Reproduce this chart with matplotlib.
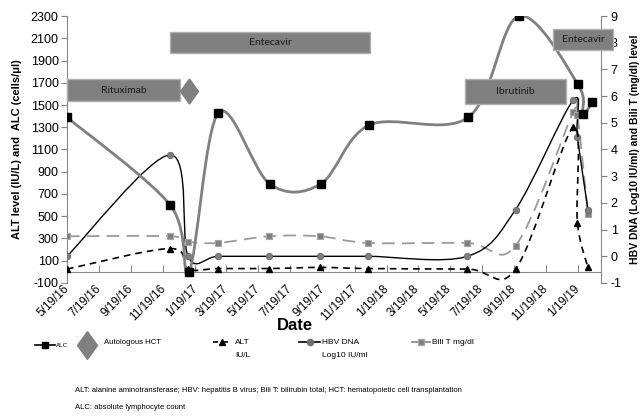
import datetime as dt
import numpy as np
import matplotlib
matplotlib.use("Agg")
import matplotlib.pyplot as plt
import matplotlib.dates as mdates
from matplotlib.path import Path
from matplotlib.patches import PathPatch, Rectangle
from matplotlib.lines import Line2D

plt.rcParams['font.family'] = ['Liberation Sans', 'DejaVu Sans']
plt.rcParams['axes.unicode_minus'] = False

# ---- data ----
alc_dates = ["2016-05-19", "2016-12-02", "2017-01-07", "2017-03-04", "2017-06-10", "2017-09-15",
             "2017-12-17", "2018-06-24", "2018-09-28", "2019-01-19", "2019-01-28", "2019-02-15"]
alc_vals = [1390, 600, 0, 1430, 790, 790, 1320, 1390, 2300, 1685, 1420, 1525]

alt_dates = ["2016-05-19", "2016-12-02", "2017-01-05", "2017-03-03", "2017-06-09", "2017-09-13",
             "2017-12-15", "2018-06-22", "2018-09-22", "2019-01-10", "2019-01-18", "2019-02-07"]
alt_vals = [25, 210, 25, 30, 30, 40, 30, 25, 25, 1300, 440, 40]

hbv_dates = alt_dates
hbv_vals = [0, 3.8, 0, 0, 0, 0, 0, 0, 1.75, 5.85, 4.45, 1.75]

bili_dates = alt_dates
bili_vals = [0.75, 0.75, 0.55, 0.5, 0.75, 0.75, 0.5, 0.5, 0.4, 5.4, 5.3, 1.6]

tick_months = [1, 3, 5, 7, 9, 11]

# treatment bars: (label, start, end, low, high) on the left axis scale
bars = [("Rituximab", "2016-05-19", "2016-12-21", 1535, 1730),
        ("Entecavir", "2016-12-02", "2017-12-18", 1965, 2155),
        ("Ibrutinib", "2018-06-18", "2018-12-27", 1505, 1730),
        ("Entecavir", "2018-12-02", "2019-03-27", 1995, 2185)]
hct_date = "2017-01-07"
hct_level = 1625


def d(s):
    return mdates.date2num(dt.datetime.strptime(s, "%Y-%m-%d"))


def smooth(xs, ys):
    # Bezier smoothing like the spreadsheet's "smoothed line"
    p = np.column_stack([xs, ys]).astype(float)
    n = len(p)
    verts = [p[0]]
    codes = [Path.MOVETO]
    for i in range(n - 1):
        p0 = p[max(i - 1, 0)]
        p1 = p[i]
        p2 = p[i + 1]
        p3 = p[min(i + 2, n - 1)]
        verts += [p1 + (p2 - p0) / 6, p2 - (p3 - p1) / 6, p2]
        codes += [Path.CURVE4] * 3
    return Path(verts, codes)


axcol = "#868686"

fig = plt.figure(figsize=(6.43, 4.19), dpi=100)
ax = fig.add_axes([0.1042, 0.3246, 0.8305, 0.6372])
ax2 = ax.twinx()

ax.set_xlim(d("2016-05-19"), d("2019-03-04"))
ax.set_ylim(-100, 2300)
ax2.set_ylim(-1, 9)

xa = [d(s) for s in alc_dates]
xt = [d(s) for s in alt_dates]
xh = [d(s) for s in hbv_dates]
xb = [d(s) for s in bili_dates]

# right-axis series
ax2.add_patch(PathPatch(smooth(xb, bili_vals), fill=False, ec="#9a9a9a", lw=1.3,
                        linestyle=(0, (7, 4))))
ax2.plot(xb, bili_vals, ls="none", marker="s", ms=5, mfc="#7f7f7f", mec="#a6a6a6", mew=0.8)
ax2.add_patch(PathPatch(smooth(xh, hbv_vals), fill=False, ec="black", lw=1.0))
ax2.plot(xh, hbv_vals, ls="none", marker="o", ms=4.5, mfc="#7f7f7f", mec="#6a6a6a", mew=0.7)

# left-axis series, drawn on top
ax3 = ax.twinx()
ax3.set_ylim(ax.get_ylim())
ax3.axis("off")
ax3.add_patch(PathPatch(smooth(xt, alt_vals), fill=False, ec="black", lw=1.2,
                        linestyle=(0, (4, 3))))
ax3.plot(xt, alt_vals, ls="none", marker="^", ms=4.5, color="black")
ax3.add_patch(PathPatch(smooth(xa, alc_vals), fill=False, ec="#808080", lw=2.0))
ax3.plot(xa, alc_vals, ls="none", marker="s", ms=5.5, color="black")

for label, s, e, lo, hi in bars:
    ax3.add_patch(Rectangle((d(s), lo), d(e) - d(s), hi - lo, fc="#808080", ec="#b0b0b0",
                            lw=1, clip_on=False, zorder=5))
    ax3.text((d(s) + d(e)) / 2, (lo + hi) / 2, label, ha="center", va="center",
             fontsize=7.5, color="#1a1a1a", family=["Lato", "DejaVu Sans"], zorder=6,
             clip_on=False)

diamond = [(0, 1), (0.72, 0), (0, -1), (-0.72, 0), (0, 1)]
ax3.plot([d(hct_date)], [hct_level], ls="none", marker=diamond, ms=18, color="#808080",
         clip_on=False, zorder=6)

# axes styling
for s in ["top", "right"]:
    ax.spines[s].set_visible(False)
ax.spines["bottom"].set_position(("data", 0))
ax.spines["left"].set_color(axcol)
ax.spines["bottom"].set_color(axcol)
for s in ["top", "left", "bottom"]:
    ax2.spines[s].set_visible(False)
ax2.spines["right"].set_color(axcol)

ax.set_yticks(np.arange(-100, 2301, 200))
ax2.set_yticks(np.arange(-1, 10, 1))
ax.tick_params(axis="y", direction="out", length=4, color=axcol, labelsize=9, pad=2)
ax2.tick_params(axis="y", direction="out", length=4, color=axcol, labelsize=9, pad=3)

ax.xaxis.set_major_locator(mdates.MonthLocator(bymonth=tick_months, bymonthday=19))
ax.xaxis.set_major_formatter(plt.FuncFormatter(
    lambda v, p: "{d.month}/{d.day}/{y}".format(d=mdates.num2date(v), y=mdates.num2date(v).strftime("%y"))))
ax.tick_params(axis="x", direction="in", length=5, color=axcol, labelsize=8.5, pad=11)
for lab in ax.get_xticklabels():
    lab.set_rotation(45)
    lab.set_ha("right")
    lab.set_va("center")
    lab.set_rotation_mode("anchor")

ax.set_ylabel("ALT level (IU/L) and  ALC (cells/\u03bcl)", fontsize=8, fontweight="bold", labelpad=6)
ax2.set_ylabel("HBV DNA (Log10 IU/ml) and Bili T (mg/dl) level", fontsize=7.5, fontweight="bold",
               rotation=90, labelpad=6)
fig.text(0.459, 0.222, "Date", fontsize=12, fontweight="bold", ha="center", va="center")

# legend row
ly = 1 - 345 / 419.0
def fx(px):
    return px / 643.0
fig.add_artist(Line2D([fx(35), fx(55)], [ly, ly], color="black", lw=1.2))
fig.add_artist(Line2D([fx(45)], [ly], color="black", marker="s", ms=5, ls="none"))
fig.text(fx(56), ly, "ALC", fontsize=4.5, va="center")
fig.add_artist(Line2D([fx(87)], [ly], color="#808080", marker=diamond, ms=20, ls="none"))
fig.text(fx(104), ly + 0.006, "Autologous HCT", fontsize=5.6, va="center")
fig.add_artist(Line2D([fx(213), fx(232)], [ly + 0.006] * 2, color="black", lw=1.2,
                      ls=(0, (3, 3))))
fig.add_artist(Line2D([fx(222)], [ly + 0.006], color="black", marker="^", ms=4.5, ls="none"))
fig.text(fx(235), ly + 0.006, "ALT", fontsize=6, va="center")
fig.text(fx(235), ly - 0.025, "IU/L", fontsize=6, va="center")
fig.add_artist(Line2D([fx(299), fx(320)], [ly + 0.006] * 2, color="black", lw=1.2))
fig.add_artist(Line2D([fx(310)], [ly + 0.006], color="#707070", marker="o", ms=4.5, ls="none"))
fig.text(fx(322), ly + 0.006, "HBV DNA", fontsize=6, va="center")
fig.text(fx(322), ly - 0.025, "Log10 IU/ml", fontsize=6, va="center")
fig.add_artist(Line2D([fx(412), fx(430)], [ly + 0.006] * 2, color="#808080", lw=1.2))
fig.add_artist(Line2D([fx(421)], [ly + 0.006], color="#7f7f7f", marker="s", ms=4.5, mec="#a6a6a6",
                      ls="none"))
fig.text(fx(432), ly + 0.006, "Bili T mg/dl", fontsize=6, va="center")

fig.text(fx(75), 1 - 391 / 419.0, "ALT: alanine aminotransferase; HBV: hepatitis B virus; Bili T: "
         "bilirubin total; HCT: hematopoietic cell transplantation", fontsize=5.5, va="center")
fig.text(fx(75), 1 - 407 / 419.0, "ALC: absolute lymphocyte count", fontsize=5.5, va="center")

fig.savefig("out.png", dpi=100)
